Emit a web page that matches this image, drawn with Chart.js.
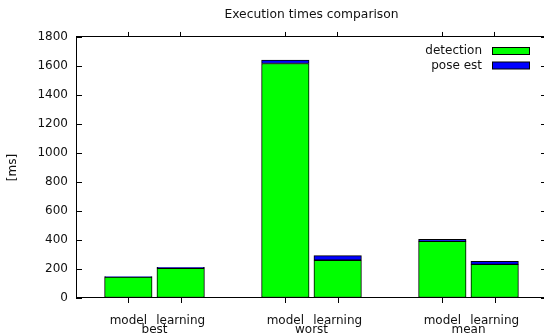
<!DOCTYPE html>
<html>
<head>
<meta charset="utf-8">
<script src="https://cdn.jsdelivr.net/npm/chart.js@4/dist/chart.umd.min.js"></script>
<style>
  html, body { margin: 0; padding: 0; background: #fff; overflow: hidden; }
  #wrap { width: 547px; height: 333px; }
</style>
</head>
<body>
<div id="wrap"><canvas id="timesChart" width="547" height="333"></canvas></div>
<script>
// data
const groups = ['best', 'worst', 'mean'];
const methods = ['model', 'learning'];
const detectionModel = [145, 1617, 391];
const detectionLearning = [205, 260, 232];
const poseModel = [3, 24, 14];
const poseLearning = [6, 32, 21];
const yTicks = [0, 200, 400, 600, 800, 1000, 1200, 1400, 1600, 1800];

const FONT = 'DejaVu Sans';
const INK = '#111';

function points(modelVals, learningVals) {
    const out = [];
    groups.forEach((g, i) => {
        out.push({ x: i * 3, y: modelVals[i] });
        out.push({ x: i * 3 + 1, y: learningVals[i] });
    });
    return out;
}

function xTickList(withGroups) {
    const list = [];
    groups.forEach((g, i) => {
        list.push({ value: i * 3, name: methods[0] });
        if (withGroups) list.push({ value: i * 3 + 0.5, name: g, group: true });
        list.push({ value: i * 3 + 1, name: methods[1] });
    });
    return list;
}

// gnuplot style: ticks inside on y, small ticks under x, legend top right
const gnuplotBits = {
    id: 'gnuplotBits',
    afterDraw(chart) {
        const ctx = chart.ctx;
        const area = chart.chartArea;
        const y = chart.scales.y;
        const x = chart.scales.x;
        ctx.save();
        ctx.strokeStyle = '#000';
        ctx.lineWidth = 1;
        ctx.beginPath();
        y.ticks.forEach(t => {
            const py = Math.round(y.getPixelForValue(t.value)) + 0.5;
            ctx.moveTo(area.left, py); ctx.lineTo(area.left + 6, py);
            ctx.moveTo(area.right - 6, py); ctx.lineTo(area.right, py);
        });
        x.ticks.forEach(t => {
            if (t.group) return;
            const px = Math.round(x.getPixelForValue(t.value)) + 0.5;
            ctx.moveTo(px, area.bottom); ctx.lineTo(px, area.bottom + 5);
        });
        ctx.stroke();

        // legend
        ctx.font = '12px ' + FONT;
        ctx.textAlign = 'right';
        ctx.textBaseline = 'middle';
        chart.data.datasets.forEach((ds, i) => {
            const cy = 51 + i * 14.5;
            ctx.fillStyle = INK;
            ctx.fillText(ds.label, 482, cy);
            ctx.fillStyle = ds.backgroundColor;
            ctx.fillRect(492.5, cy - 3.5, 37, 7);
            ctx.strokeStyle = '#000';
            ctx.strokeRect(492.5, cy - 3.5, 37, 7);
        });
        ctx.restore();
    }
};

const barStyle = {
    borderColor: '#000',
    borderWidth: 1,
    borderSkipped: false,
    barThickness: 47.5
};

new Chart(document.getElementById('timesChart'), {
    type: 'bar',
    data: {
        datasets: [
            Object.assign({
                label: 'detection',
                data: points(detectionModel, detectionLearning),
                backgroundColor: '#00ff00'
            }, barStyle),
            Object.assign({
                label: 'pose est',
                data: points(poseModel, poseLearning),
                backgroundColor: '#0000ff'
            }, barStyle)
        ]
    },
    options: {
        responsive: false,
        animation: false,
        layout: { padding: 0 },
        plugins: {
            legend: { display: false },
            tooltip: { enabled: false },
            title: {
                display: true,
                text: 'Execution times comparison',
                fullSize: false,
                color: INK,
                font: { family: FONT, size: 12.3, weight: 'normal', lineHeight: 1.2 },
                padding: { top: 7.6, bottom: 8.6 }
            }
        },
        scales: {
            x: {
                type: 'linear',
                stacked: true,
                offset: false,
                min: -1,
                max: 8,
                afterBuildTicks: s => { s.ticks = xTickList(true); },
                afterFit: s => { s.height = 35; },
                grid: {
                    offset: false,
                    drawOnChartArea: false,
                    drawTicks: false
                },
                border: { color: '#000', width: 1 },
                ticks: {
                    autoSkip: false,
                    maxRotation: 0,
                    padding: 19,
                    color: INK,
                    font: { family: FONT, size: 12, lineHeight: 0.71 },
                    callback: (v, i, ticks) => ticks[i].group ? ['', ticks[i].name] : ticks[i].name
                }
            },
            x2: {
                type: 'linear',
                position: 'top',
                offset: false,
                min: -1,
                max: 8,
                afterBuildTicks: s => { s.ticks = xTickList(false); },
                afterFit: s => { s.height = 6; },
                grid: { offset: false, drawOnChartArea: false, tickLength: 5, tickColor: '#000' },
                border: { color: '#000', width: 1 },
                ticks: { display: false }
            },
            y: {
                stacked: true,
                min: 0,
                max: 1800,
                afterBuildTicks: s => { s.ticks = yTicks.map(v => ({ value: v })); },
                afterFit: s => { s.width = 76; },
                grid: { drawOnChartArea: false, drawTicks: false },
                border: { color: '#000', width: 1 },
                ticks: {
                    padding: 8,
                    color: INK,
                    font: { family: FONT, size: 12 },
                    callback: v => String(v)
                },
                title: {
                    display: true,
                    text: '[ms]',
                    color: INK,
                    font: { family: FONT, size: 12, lineHeight: 1.2 },
                    padding: { top: 6 }
                }
            }
        }
    },
    plugins: [gnuplotBits]
});
</script>
</body>
</html>
